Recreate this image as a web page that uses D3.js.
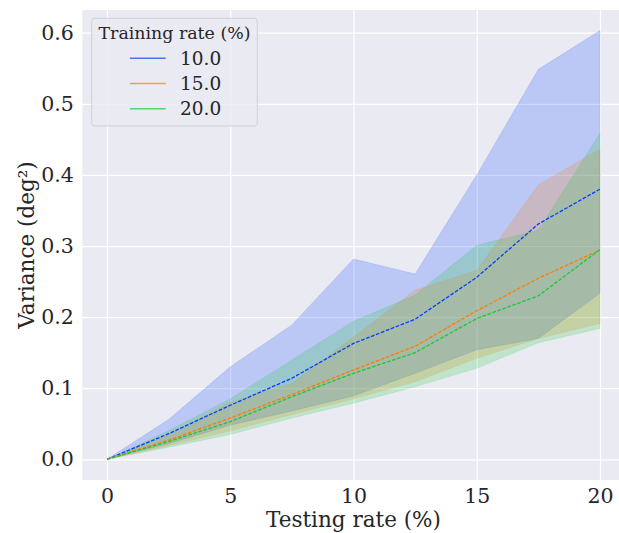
<!DOCTYPE html>
<html>
<head>
<meta charset="utf-8">
<script src="https://cdn.jsdelivr.net/npm/d3@7/dist/d3.min.js"></script>
<style>
  html, body { margin: 0; padding: 0; background: #ffffff; }
  svg { display: block; font-family: "DejaVu Serif", serif; }
</style>
</head>
<body>
<svg id="chart" width="619" height="533"></svg>
<script>
// Testing rate (%) at which each variance was measured
const testingRates = [0, 2.5, 5, 7.5, 10, 12.5, 15, 17.5, 20];

// Training rates (%) shown as separate series
const trainingRates = ["10.0", "15.0", "20.0"];
const seriesColors = ["#023eff", "#ff7c00", "#1ac938"];

// Mean variance (deg²) per training rate
const mean10 = [0, 0.036, 0.076, 0.114, 0.163, 0.197, 0.256, 0.331, 0.380];
const mean15 = [0, 0.027, 0.058, 0.091, 0.1256, 0.159, 0.209, 0.2546, 0.2944];
const mean20 = [0, 0.025, 0.053, 0.088, 0.121, 0.150, 0.198, 0.230, 0.295];

// Lower / upper edges of the spread band per training rate
const lower10 = [0, 0.022, 0.048, 0.068, 0.089, 0.121, 0.154, 0.170, 0.2335];
const upper10 = [0, 0.056, 0.130, 0.189, 0.2817, 0.2606, 0.400, 0.5485, 0.603];
const lower15 = [0, 0.019, 0.040, 0.063, 0.085, 0.109, 0.142, 0.170, 0.191];
const upper15 = [0, 0.035, 0.080, 0.107, 0.172, 0.238, 0.266, 0.386, 0.436];
const lower20 = [0, 0.017, 0.035, 0.058, 0.079, 0.102, 0.128, 0.164, 0.184];
const upper20 = [0, 0.040, 0.085, 0.1397, 0.194, 0.231, 0.301, 0.322, 0.4585];

// Axis ticks
const xTicks = [0, 5, 10, 15, 20];
const yTicks = [0, 0.1, 0.2, 0.3, 0.4, 0.5, 0.6];

const series = [
  { label: trainingRates[0], color: seriesColors[0], mean: mean10, lo: lower10, hi: upper10 },
  { label: trainingRates[1], color: seriesColors[1], mean: mean15, lo: lower15, hi: upper15 },
  { label: trainingRates[2], color: seriesColors[2], mean: mean20, lo: lower20, hi: upper20 }
];

const svg = d3.select("#chart");
const textColor = "#262626";

const plot = { left: 82.35, right: 624.65, top: 10, bottom: 480 };

const x = d3.scaleLinear().domain([-1, 21]).range([plot.left, plot.right]);
const y = d3.scaleLinear().domain([0, 0.6]).range([459.3, 32.7]);

// Axes background
svg.append("rect")
  .attr("x", plot.left).attr("y", plot.top)
  .attr("width", plot.right - plot.left).attr("height", plot.bottom - plot.top)
  .attr("fill", "#eaeaf2");

// Grid lines via axis generators
const gx = svg.append("g")
  .attr("transform", `translate(0,${plot.bottom})`)
  .call(d3.axisBottom(x).tickValues(xTicks).tickSize(-(plot.bottom - plot.top)).tickPadding(7).tickFormat(d3.format("d")));
const gy = svg.append("g")
  .attr("transform", `translate(${plot.left},0)`)
  .call(d3.axisLeft(y).tickValues(yTicks).tickSize(-(plot.right - plot.left)).tickPadding(8.5).tickFormat(d3.format(".1f")));

[gx, gy].forEach(g => {
  g.select(".domain").remove();
  g.selectAll(".tick line").attr("stroke", "#ffffff").attr("stroke-width", 1.25);
  g.selectAll(".tick text")
    .attr("fill", textColor)
    .attr("font-family", "DejaVu Serif")
    .attr("font-size", 20.5);
});
gx.selectAll(".tick text").attr("dy", "0.8em");

// Spread bands first, mean lines on top
const marks = svg.append("g");
series.forEach(s => {
  const areaGen = d3.area()
    .x((d, i) => x(testingRates[i]))
    .y0((d, i) => y(s.lo[i]))
    .y1((d, i) => y(s.hi[i]));
  marks.append("path")
    .datum(s.mean)
    .attr("d", areaGen)
    .attr("fill", s.color)
    .attr("fill-opacity", 0.2)
    .attr("stroke", s.color)
    .attr("stroke-opacity", 0.12)
    .attr("stroke-width", 1);
});
const lineGen = d3.line().x((d, i) => x(testingRates[i])).y(d => y(d));
series.forEach(s => {
  marks.append("path")
    .datum(s.mean)
    .attr("d", lineGen)
    .attr("fill", "none")
    .attr("stroke", s.color)
    .attr("stroke-width", 1.3)
    .attr("stroke-dasharray", "3.7,1.6");
});

// Axis labels
svg.append("text")
  .attr("x", (plot.left + plot.right) / 2)
  .attr("y", 527)
  .attr("text-anchor", "middle")
  .attr("fill", textColor)
  .attr("font-size", 21.5)
  .text("Testing rate (%)");

svg.append("text")
  .attr("transform", `translate(34,${(plot.top + plot.bottom) / 2}) rotate(-90)`)
  .attr("text-anchor", "middle")
  .attr("fill", textColor)
  .attr("font-size", 21.5)
  .text("Variance (deg²)");

// Legend
const legend = svg.append("g");
legend.append("rect")
  .attr("x", 91.7).attr("y", 18.3)
  .attr("width", 165.6).attr("height", 107.7)
  .attr("rx", 3).attr("ry", 3)
  .attr("fill", "#eaeaf2").attr("fill-opacity", 0.8)
  .attr("stroke", "#d0d0d6").attr("stroke-width", 1);

legend.append("text")
  .attr("x", 174.5).attr("y", 38.5)
  .attr("text-anchor", "middle")
  .attr("fill", textColor)
  .attr("font-size", 17.4)
  .text("Training rate (%)");

const rowY = d3.scalePoint().domain(trainingRates).range([58.3, 108.7]);
series.forEach(s => {
  const yy = rowY(s.label);
  legend.append("line")
    .attr("x1", 130).attr("x2", 165.7)
    .attr("y1", yy).attr("y2", yy)
    .attr("stroke", s.color)
    .attr("stroke-opacity", 0.7)
    .attr("stroke-width", 1.5);
  legend.append("text")
    .attr("x", 180).attr("y", yy)
    .attr("dy", "0.36em")
    .attr("fill", textColor)
    .attr("font-size", 18.5)
    .text(s.label);
});
</script>
</body>
</html>
